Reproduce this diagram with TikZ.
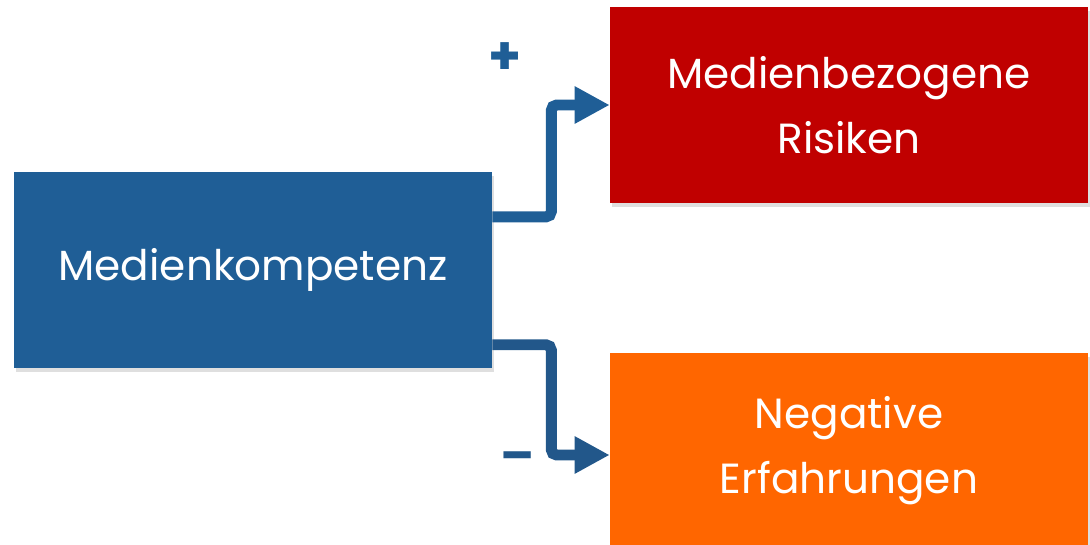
\documentclass[tikz,border=0pt]{standalone}
\usepackage{fontspec}
\setmainfont{Poppins}
\usepackage{tikz}
\usetikzlibrary{shapes, arrows.meta, calc, positioning, shadows}

\definecolor{kblue}{HTML}{1F5E96}
\definecolor{kdarkblue}{HTML}{22578A}
\definecolor{kred}{HTML}{C00000}
\definecolor{korange}{HTML}{FF6600}

\begin{document}
\begin{tikzpicture}[x=0.02cm,y=-0.02cm]
            \useasboundingbox (0,0) rectangle (1090,545);
            \begin{scope}[shape=rectangle,minimum width=9.56cm,minimum height=3.92cm]
            \tikzstyle{every node}=[text=white,align=center,font=\fontsize{24}{37}\selectfont,
                drop shadow={shadow xshift=0.04cm,shadow yshift=-0.08cm,opacity=0.25}]
            \tikzstyle{link}=[line width=6.2pt,rounded corners=3pt,-{Triangle[length=20pt,width=20pt]}]

            \node[fill=kblue] (komp) at (253,270) {Medienkompetenz};
            \node[fill=kred] (risk) at (849,105) {Medienbezogene\\Risiken};
            \node[fill=korange] (neg) at (849,451) {Negative\\Erfahrungen};

            \draw [link,kblue] ($(komp.north east)!0.23!(komp.south east)$) -- ++(59,0) |- (risk.west);
            \draw [link,kdarkblue] ($(komp.north east)!0.88!(komp.south east)$) -- ++(59,0) |- ([yshift=-0.08cm]neg.west);

            \end{scope}
            \node[text=kblue,font=\fontsize{30}{30}\selectfont\bfseries] (plus) at (505,59) {+};
            \node[text=kdarkblue,font=\fontsize{28}{28}\selectfont\bfseries] (minus) at (518,462) {--};
        \end{tikzpicture}
\end{document}
